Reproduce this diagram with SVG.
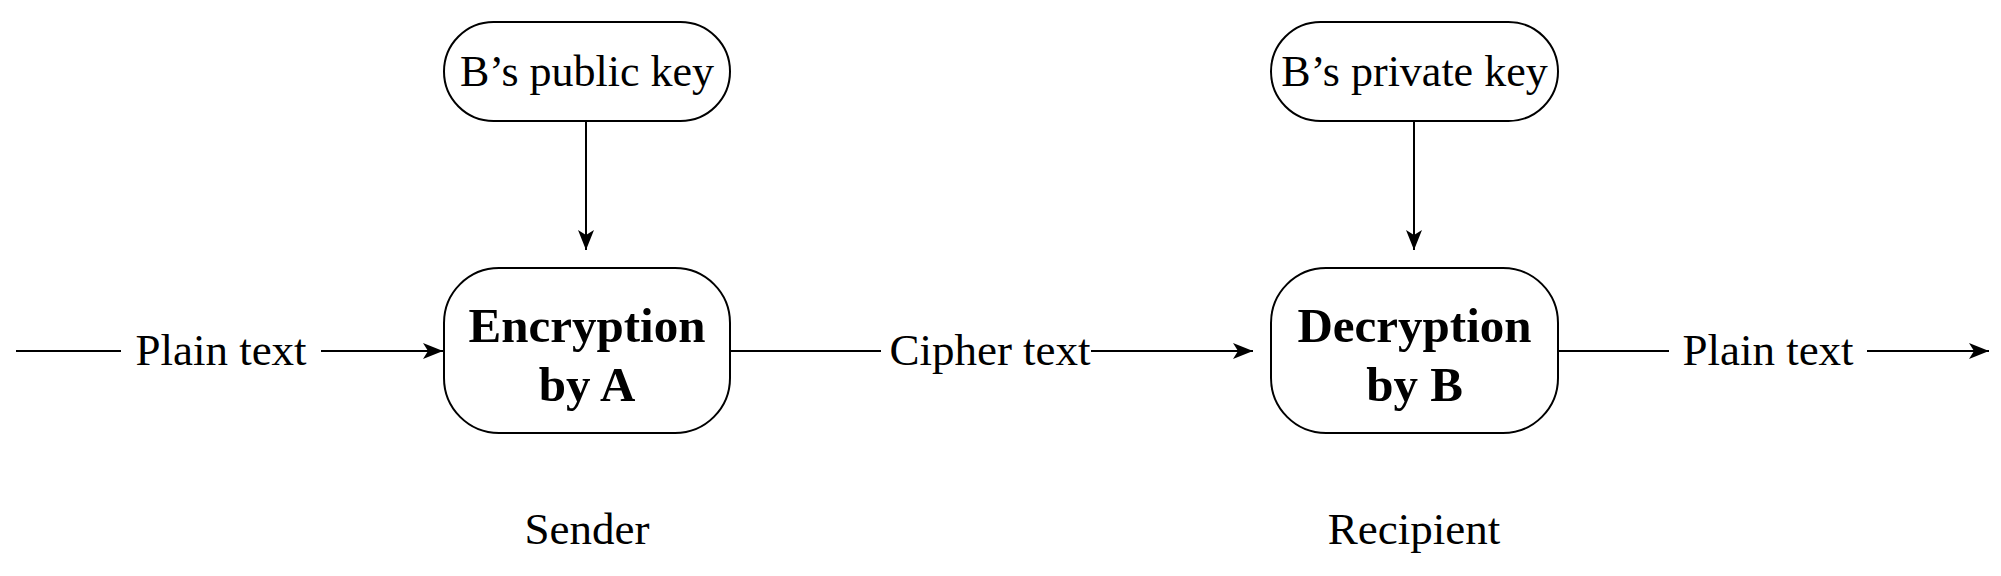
<svg xmlns="http://www.w3.org/2000/svg" width="2001" height="576" viewBox="0 0 2001 576">
<defs>
<marker id="arr" viewBox="0 0 20 16" refX="20" refY="8" markerWidth="20" markerHeight="16" markerUnits="userSpaceOnUse" orient="auto">
<path d="M0,0 L20,8 L0,16 L5,8 Z" fill="#000"/>
</marker>
<style>
.box{fill:#fff;stroke:#000;stroke-width:2}
.ln{fill:none;stroke:#000;stroke-width:2}
.t{font-family:"Liberation Serif","Times New Roman",serif;font-size:45px;fill:#000;text-anchor:middle}
.k{font-size:44px}
.b{font-weight:bold;font-size:49px}
</style>
</defs>
<rect width="2001" height="576" fill="#fff"/>
<g id="connectors">
<line class="ln" x1="16" y1="351" x2="121" y2="351"/>
<line class="ln" x1="321" y1="351" x2="443" y2="351" marker-end="url(#arr)"/>
<line class="ln" x1="730" y1="351" x2="881" y2="351"/>
<line class="ln" x1="1091" y1="351" x2="1253" y2="351" marker-end="url(#arr)"/>
<line class="ln" x1="1558" y1="351" x2="1669" y2="351"/>
<line class="ln" x1="1867" y1="351" x2="1989" y2="351" marker-end="url(#arr)"/>
<line class="ln" x1="586" y1="121" x2="586" y2="250" marker-end="url(#arr)"/>
<line class="ln" x1="1414" y1="121" x2="1414" y2="250" marker-end="url(#arr)"/>
<text class="t" x="221" y="365">Plain text</text>
<text class="t" x="990" y="365">Cipher text</text>
<text class="t" x="1768" y="365">Plain text</text>
</g>
<g id="pubkey">
<rect class="box" x="444" y="22" width="286" height="99" rx="49.5" ry="49.5"/>
<text class="t k" x="587" y="86">B’s public key</text>
</g>
<g id="privkey">
<rect class="box" x="1271" y="22" width="287" height="99" rx="49.5" ry="49.5"/>
<text class="t k" x="1414.5" y="86">B’s private key</text>
</g>
<g id="encrypt">
<rect class="box" x="444" y="268" width="286" height="165" rx="55" ry="55"/>
<text class="t b" x="587" y="342">Encryption</text>
<text class="t b" x="587" y="401">by A</text>
</g>
<g id="decrypt">
<rect class="box" x="1271" y="268" width="287" height="165" rx="55" ry="55"/>
<text class="t b" x="1414.5" y="342">Decryption</text>
<text class="t b" x="1414.5" y="401">by B</text>
</g>
<g id="sender"><text class="t" x="587" y="544">Sender</text></g>
<g id="recipient"><text class="t" x="1414" y="544">Recipient</text></g>
</svg>
